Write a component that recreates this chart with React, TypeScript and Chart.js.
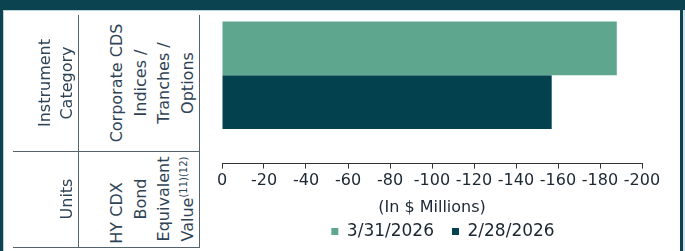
import React, { useEffect, useRef } from 'react';
import { Chart, registerables } from 'chart.js';

Chart.register(...registerables);

// ---- data ----
const categories = ['Corporate CDS Indices / Tranches / Options'];
const seriesLabels = ['3/31/2026', '2/28/2026'];
const march2026Values = [-188];
const feb2026Values = [-157];
const xMin = -200;
const xMax = 0;
const xStep = 20;
const axisTitle = '(In $ Millions)';
const headerCol = ['Instrument', 'Category'];
const headerUnits = ['Units'];
const valueCategory = ['Corporate CDS', 'Indices /', 'Tranches /', 'Options'];
const valueUnits = ['HY CDX', 'Bond', 'Equivalent', 'Value'];
const unitsNote = '(11)(12)';

const DARK = '#0b4450';
const TEXT = '#1b2733';
const CELL_TEXT = '#2f4356';
const LINE = '#55636e';

function RotCell(props: { x0: number; x1: number; y0: number; y1: number; lh: number; children: React.ReactNode }) {
  const { x0, x1, y0, y1, lh, children } = props;
  return (
    <div
      style={{
        position: 'absolute',
        left: x0,
        top: y1,
        width: y1 - y0,
        height: x1 - x0,
        transformOrigin: 'top left',
        transform: 'rotate(-90deg)',
        display: 'flex',
        flexDirection: 'column',
        justifyContent: 'flex-end',
        alignItems: 'center',
        textAlign: 'center',
        fontFamily: 'DejaVu Sans',
        fontSize: 16,
        lineHeight: lh + 'px',
        color: CELL_TEXT,
        whiteSpace: 'nowrap',
      }}
    >
      {children}
    </div>
  );
}

export default function App() {
  const ref = useRef<HTMLCanvasElement | null>(null);

  useEffect(() => {
    if (!ref.current) return;
    const chart = new Chart(ref.current, {
      type: 'bar',
      data: {
        labels: categories,
        datasets: [
          {
            label: seriesLabels[0],
            data: march2026Values,
            backgroundColor: '#5fa68f',
            categoryPercentage: 0.608,
            barPercentage: 1,
          },
          {
            label: seriesLabels[1],
            data: feb2026Values,
            backgroundColor: '#03414e',
            categoryPercentage: 0.608,
            barPercentage: 1,
          },
        ],
      },
      options: {
        indexAxis: 'y',
        animation: false,
        responsive: false,
        devicePixelRatio: 1,
        layout: { padding: { left: 16, right: 16, top: 0, bottom: 4 } },
        scales: {
          x: {
            type: 'linear',
            min: xMin,
            max: xMax,
            reverse: true,
            ticks: {
              stepSize: xStep,
              color: TEXT,
              font: { family: 'DejaVu Sans', size: 16 },
              padding: 3,
              maxRotation: 0,
              autoSkip: false,
            },
            grid: {
              display: true,
              drawOnChartArea: false,
              drawTicks: true,
              tickLength: 5,
              color: '#333',
              lineWidth: 1,
            },
            border: { display: true, color: '#333', width: 1 },
            title: {
              display: true,
              text: axisTitle,
              color: TEXT,
              font: { family: 'DejaVu Sans', size: 16 },
              padding: { top: 4, bottom: -12 },
            },
          },
          y: {
            type: 'category',
            position: 'right',
            display: true,
            ticks: { display: false },
            grid: { display: false, drawTicks: false },
            border: { display: false },
            afterFit: (scale: any) => {
              scale.width = 22;
            },
          },
        },
        plugins: {
          legend: {
            position: 'bottom',
            labels: {
              boxWidth: 7,
              boxHeight: 7,
              padding: 18,
              color: TEXT,
              font: { family: 'DejaVu Sans', size: 17 },
            },
          },
          tooltip: { enabled: false },
        },
      },
    });
    return () => chart.destroy();
  }, []);

  return (
    <div
      style={{
        position: 'fixed',
        left: 0,
        top: 0,
        width: 685,
        height: 251,
        overflow: 'hidden',
        background: '#fff',
      }}
    >
      <div style={{ position: 'absolute', left: 206, top: -13, width: 474, height: 267 }}>
        <canvas ref={ref} width={474} height={267} style={{ width: 474, height: 267, display: 'block' }} />
      </div>
      {/* frame */}
      <div style={{ position: 'absolute', left: 0, top: 0, width: 685, height: 10, background: DARK }} />
      <div style={{ position: 'absolute', left: 0, top: 10, width: 685, height: 1, background: '#b9d3da' }} />
      <div style={{ position: 'absolute', left: 0, top: 0, width: 3, height: 251, background: DARK }} />
      <div style={{ position: 'absolute', left: 3, top: 10, width: 1, height: 241, background: '#b9d3da' }} />
      <div style={{ position: 'absolute', left: 680, top: 0, width: 3, height: 251, background: DARK }} />
      <div style={{ position: 'absolute', left: 683, top: 10, width: 2, height: 241, background: '#cfe1e6' }} />
      {/* table lines */}
      <div style={{ position: 'absolute', left: 78, top: 15, width: 1, height: 232, background: LINE }} />
      <div style={{ position: 'absolute', left: 199, top: 15, width: 1, height: 232, background: LINE }} />
      <div style={{ position: 'absolute', left: 13, top: 151, width: 187, height: 1, background: LINE }} />
      <div style={{ position: 'absolute', left: 13, top: 247, width: 187, height: 1, background: LINE }} />
      {/* table text */}
      <RotCell x0={13} x1={78} y0={15} y1={151} lh={22}>
        {headerCol.map((t) => (
          <div key={t}>{t}</div>
        ))}
      </RotCell>
      <RotCell x0={13} x1={78} y0={151} y1={247} lh={22}>
        {headerUnits.map((t) => (
          <div key={t}>{t}</div>
        ))}
      </RotCell>
      <RotCell x0={78} x1={199} y0={15} y1={151} lh={23.5}>
        {valueCategory.map((t) => (
          <div key={t}>{t}</div>
        ))}
      </RotCell>
      <RotCell x0={78} x1={199} y0={151} y1={247} lh={23.5}>
        {valueUnits.map((t, i) => (
          <div key={t} style={i === 0 ? { position: 'relative', left: -14 } : undefined}>
            {t}
            {i === valueUnits.length - 1 ? (
              <sup style={{ fontSize: 10, lineHeight: 0, verticalAlign: 'super' }}>{unitsNote}</sup>
            ) : null}
          </div>
        ))}
      </RotCell>
    </div>
  );
}
